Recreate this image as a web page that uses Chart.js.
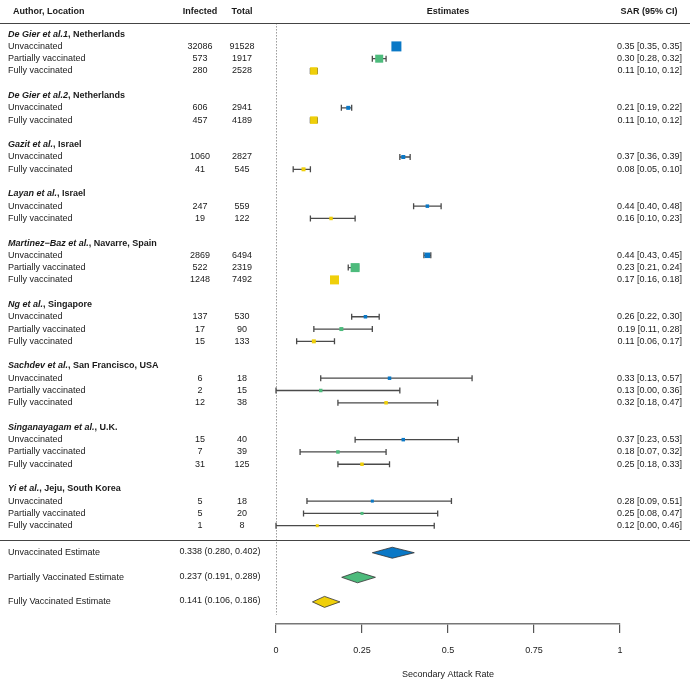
<!DOCTYPE html>
<html>
<head>
<meta charset="utf-8">
<script src="https://cdn.jsdelivr.net/npm/chart.js@4.4.1/dist/chart.umd.min.js"></script>
<style>
  html, body { margin: 0; padding: 0; background: #ffffff; }
  #wrap { width: 690px; height: 680px; position: relative; }
</style>
</head>
<body>
<div id="wrap"><canvas id="c" width="690" height="680"></canvas></div>
<script>
// ---------------- DATA ----------------
const studies = ["De Gier et al.1", "De Gier et al.2", "Gazit et al.", "Layan et al.", "Martinez\u2212Baz et al.", "Ng et al.", "Sachdev et al.", "Singanayagam et al.", "Yi et al."];
const locations = ["Netherlands", "Netherlands", "Israel", "Israel", "Navarre, Spain", "Singapore", "San Francisco, USA", "U.K.", "Jeju, South Korea"];
const groups = ["Unvaccinated", "Partially vaccinated", "Fully vaccinated"];

const rowStudy = [0,0,0, 1,1, 2,2, 3,3, 4,4,4, 5,5,5, 6,6,6, 7,7,7, 8,8,8];
const rowGroup = [0,1,2, 0,2, 0,2, 0,2, 0,1,2, 0,1,2, 0,1,2, 0,1,2, 0,1,2];
const infected = [32086,573,280, 606,457, 1060,41, 247,19, 2869,522,1248, 137,17,15, 6,2,12, 15,7,31, 5,5,1];
const total    = [91528,1917,2528, 2941,4189, 2827,545, 559,122, 6494,2319,7492, 530,90,133, 18,15,38, 40,39,125, 18,20,8];
const sar      = [0.35,0.30,0.11, 0.21,0.11, 0.37,0.08, 0.44,0.16, 0.44,0.23,0.17, 0.26,0.19,0.11, 0.33,0.13,0.32, 0.37,0.18,0.25, 0.28,0.25,0.12];
const sarLo    = [0.35,0.28,0.10, 0.19,0.10, 0.36,0.05, 0.40,0.10, 0.43,0.21,0.16, 0.22,0.11,0.06, 0.13,0.00,0.18, 0.23,0.07,0.18, 0.09,0.08,0.00];
const sarHi    = [0.35,0.32,0.12, 0.22,0.12, 0.39,0.10, 0.48,0.23, 0.45,0.24,0.18, 0.30,0.28,0.17, 0.57,0.36,0.47, 0.53,0.32,0.33, 0.51,0.47,0.46];

const pooledLabels = ["Unvaccinated Estimate", "Partially Vaccinated Estimate", "Fully Vaccinated Estimate"];
const pooledEst = [0.338, 0.237, 0.141];
const pooledLo  = [0.280, 0.191, 0.106];
const pooledHi  = [0.402, 0.289, 0.186];

const xTicks = [0, 0.25, 0.5, 0.75, 1];
const xTickLabels = ["0", "0.25", "0.5", "0.75", "1"];

// ---------------- STYLE ----------------
const groupColors = ["#0a78c6", "#4dbb7c", "#efcf0a"];
const markerSide = [10,8,7.5, 4,7.5, 4,4, 3.5,3.5, 5.5,9,9, 3.5,4,4, 3.5,3.5,3.5, 3.5,3.5,3.5, 3,3,3];
const FONT = '"Liberation Sans", Arial, Helvetica, sans-serif';
const TXT = '#1a1a1a';

// ---------------- LAYOUT (row indices) ----------------
const rowPos = [];
const headerPos = [];
{
  let r = 0, prev = -1;
  for (let i = 0; i < rowStudy.length; i++) {
    if (rowStudy[i] !== prev) {
      if (prev !== -1) r += 1; // blank line
      headerPos.push(r);
      r += 1;
      prev = rowStudy[i];
    }
    rowPos.push(r);
    r += 1;
  }
}
const lastRow = rowPos[rowPos.length - 1];
const sepRow = lastRow + 1.2;
const pooledPos = pooledEst.map((_, i) => lastRow + 2.2 + 2 * i);
const colHeaderRow = -1.8;
const topLineRow = -0.9;

// datasets per vaccination group
const datasets = groups.map((g, gi) => {
  const idx = [];
  rowGroup.forEach((v, i) => { if (v === gi) idx.push(i); });
  return {
    label: g,
    data: idx.map(i => ({ x: sar[i], y: rowPos[i] })),
    pointStyle: 'rect',
    pointRadius: idx.map(i => markerSide[i] / Math.SQRT2),
    pointHoverRadius: idx.map(i => markerSide[i] / Math.SQRT2),
    backgroundColor: groupColors[gi],
    borderColor: groupColors[gi],
    borderWidth: 0,
    showLine: false
  };
});

const forestPlugin = {
  id: 'forest',
  beforeDatasetsDraw(chart) {
    const { ctx, scales: { x, y } } = chart;
    ctx.save();
    // zero reference dotted line
    ctx.strokeStyle = '#9a9a9a';
    ctx.lineWidth = 1;
    ctx.setLineDash([1.5, 1.5]);
    ctx.beginPath();
    ctx.moveTo(x.getPixelForValue(0) + 0.5, y.getPixelForValue(topLineRow));
    ctx.lineTo(x.getPixelForValue(0) + 0.5, y.getPixelForValue(pooledPos[2] + 1.05));
    ctx.stroke();
    ctx.setLineDash([]);
    // CI bars
    ctx.strokeStyle = '#4a4a4a';
    ctx.lineWidth = 1.3;
    for (let i = 0; i < sar.length; i++) {
      const py = y.getPixelForValue(rowPos[i]);
      const x0 = x.getPixelForValue(sarLo[i]);
      const x1 = x.getPixelForValue(sarHi[i]);
      if (x1 - x0 < 0.5) continue;
      ctx.beginPath();
      ctx.moveTo(x0, py); ctx.lineTo(x1, py);
      ctx.moveTo(x0, py - 3); ctx.lineTo(x0, py + 3);
      ctx.moveTo(x1, py - 3); ctx.lineTo(x1, py + 3);
      ctx.stroke();
    }
    // pooled diamonds
    for (let i = 0; i < pooledEst.length; i++) {
      const py = y.getPixelForValue(pooledPos[i]);
      const xl = x.getPixelForValue(pooledLo[i]);
      const xm = x.getPixelForValue(pooledEst[i]);
      const xr = x.getPixelForValue(pooledHi[i]);
      ctx.beginPath();
      ctx.moveTo(xl, py); ctx.lineTo(xm, py - 5.5); ctx.lineTo(xr, py); ctx.lineTo(xm, py + 5.5);
      ctx.closePath();
      ctx.fillStyle = groupColors[i];
      ctx.fill();
      ctx.strokeStyle = '#333';
      ctx.lineWidth = 0.8;
      ctx.stroke();
    }
    ctx.restore();
  },
  afterDraw(chart) {
    const { ctx, scales: { x, y }, width } = chart;
    ctx.save();
    ctx.fillStyle = TXT;
    ctx.textBaseline = 'middle';
    // column headers
    const hy = y.getPixelForValue(colHeaderRow);
    ctx.font = 'bold 9px ' + FONT;
    ctx.textAlign = 'left';
    ctx.fillText('Author, Location', 13, hy);
    ctx.textAlign = 'center';
    ctx.fillText('Infected', 200, hy);
    ctx.fillText('Total', 242, hy);
    ctx.fillText('Estimates', (x.left + x.right) / 2, hy);
    ctx.fillText('SAR (95% CI)', 649, hy);
    // horizontal rules
    ctx.strokeStyle = '#444';
    ctx.lineWidth = 1.2;
    ctx.beginPath();
    const ty = Math.round(y.getPixelForValue(topLineRow)) + 0.5;
    ctx.moveTo(0, ty); ctx.lineTo(width, ty);
    const sy = Math.round(y.getPixelForValue(sepRow)) + 0.5;
    ctx.moveTo(0, sy); ctx.lineTo(width, sy);
    ctx.stroke();
    // study headers
    for (let s = 0; s < studies.length; s++) {
      const py = y.getPixelForValue(headerPos[s]);
      ctx.textAlign = 'left';
      ctx.font = 'italic bold 9px ' + FONT;
      ctx.fillText(studies[s], 8, py);
      const w = ctx.measureText(studies[s]).width;
      ctx.font = 'bold 9px ' + FONT;
      ctx.fillText(', ' + locations[s], 8 + w, py);
    }
    // rows
    ctx.font = '9px ' + FONT;
    for (let i = 0; i < sar.length; i++) {
      const py = y.getPixelForValue(rowPos[i]);
      ctx.textAlign = 'left';
      ctx.fillText(groups[rowGroup[i]], 8, py);
      ctx.textAlign = 'center';
      ctx.fillText(String(infected[i]), 200, py);
      ctx.fillText(String(total[i]), 242, py);
      ctx.textAlign = 'right';
      ctx.fillText(sar[i].toFixed(2) + ' [' + sarLo[i].toFixed(2) + ', ' + sarHi[i].toFixed(2) + ']', 682, py);
    }
    // pooled labels
    for (let i = 0; i < pooledEst.length; i++) {
      const py = y.getPixelForValue(pooledPos[i]);
      ctx.textAlign = 'left';
      ctx.fillText(pooledLabels[i], 8, py);
      ctx.textAlign = 'center';
      ctx.fillText(pooledEst[i].toFixed(3) + ' (' + pooledLo[i].toFixed(3) + ', ' + pooledHi[i].toFixed(3) + ')', 220, py - 1);
    }
    ctx.restore();
  }
};

new Chart(document.getElementById('c'), {
  type: 'scatter',
  data: { datasets },
  options: {
    responsive: false,
    devicePixelRatio: 1,
    animation: false,
    layout: { padding: { left: 276, right: 70, top: 0, bottom: 0 } },
    plugins: { legend: { display: false }, tooltip: { enabled: false } },
    scales: {
      x: {
        type: 'linear',
        min: 0, max: 1,
        afterBuildTicks(scale) { scale.ticks = xTicks.map(v => ({ value: v })); },
        afterFit(scale) { scale.height = 56; },
        border: { display: true, color: '#777', width: 1.6 },
        grid: { drawOnChartArea: false, drawTicks: true, tickLength: 9, color: '#555', lineWidth: 1.2 },
        ticks: {
          color: TXT, font: { family: FONT, size: 9 }, padding: 12, maxRotation: 0, autoSkip: false,
          callback: (v) => { const k = xTicks.indexOf(v); return k >= 0 ? xTickLabels[k] : ''; }
        },
        title: { display: true, text: 'Secondary Attack Rate', color: TXT, font: { family: FONT, size: 9 }, padding: { top: 0, bottom: 0 } }
      },
      y: {
        type: 'linear',
        display: false,
        reverse: true,
        min: -2.2,
        max: 48
      }
    }
  },
  plugins: [forestPlugin]
});
</script>
</body>
</html>
